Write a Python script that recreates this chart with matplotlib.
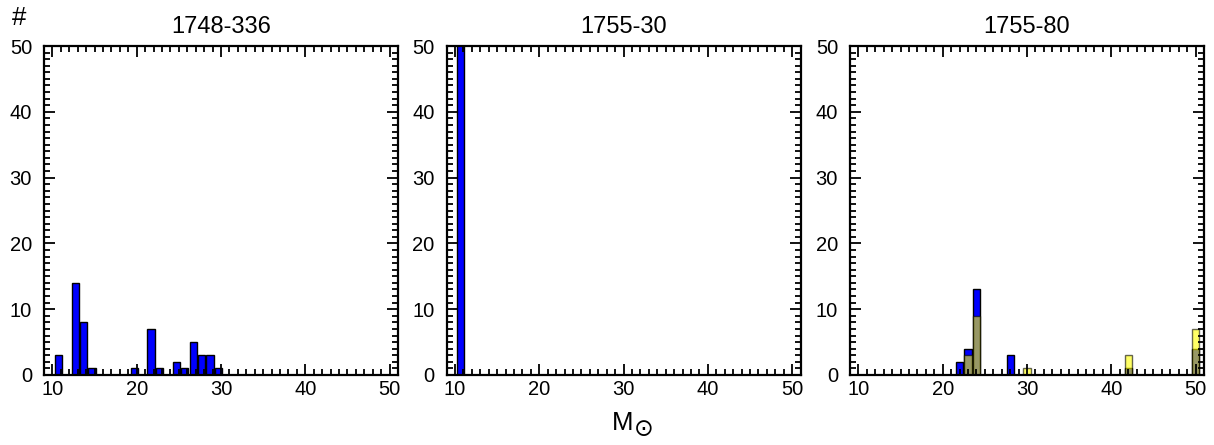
import numpy as np
import matplotlib.pyplot as plt
from matplotlib.ticker import MultipleLocator

plt.rcParams['font.family'] = ['Liberation Sans', 'DejaVu Sans']

# Data (bin centres in solar masses, counts)
titles = ['1748-336', '1755-30', '1755-80']

m1_blue = [10.7, 12.7, 13.7, 14.7, 19.7, 21.7, 22.7, 24.7, 25.7, 26.7, 27.7, 28.7, 29.7]
n1_blue = [3, 14, 8, 1, 1, 7, 1, 2, 1, 5, 3, 3, 1]

m2_blue = [10.65]
n2_blue = [60]

m3_blue = [22, 23, 24, 28, 42, 50]
n3_blue = [2, 4, 13, 3, 1, 4]
m3_yellow = [23, 24, 30, 42, 50]
n3_yellow = [3, 9, 1, 3, 7]

blue_sets = [(m1_blue, n1_blue), (m2_blue, n2_blue), (m3_blue, n3_blue)]
yellow_sets = [None, None, (m3_yellow, n3_yellow)]

W, H = 1214, 445
fig = plt.figure(figsize=(W / 100, H / 100), dpi=100)

lefts = [44, 446.5, 850]
for i in range(3):
    ax = fig.add_axes([lefts[i] / W, 1 - 375 / H, 354 / W, 329 / H])
    m, n = blue_sets[i]
    ax.bar(m, n, width=0.85, color='#0000ff', edgecolor='black', linewidth=1.0)
    if yellow_sets[i] is not None:
        my, ny = yellow_sets[i]
        ax.bar(my, ny, width=0.85, color='#ffff00', edgecolor='black',
               linewidth=1.0, alpha=0.6)
    ax.set_xlim(9, 51)
    ax.set_ylim(0, 50)
    ax.xaxis.set_major_locator(MultipleLocator(10))
    ax.xaxis.set_minor_locator(MultipleLocator(1))
    ax.yaxis.set_major_locator(MultipleLocator(10))
    ax.yaxis.set_minor_locator(MultipleLocator(1))
    ax.tick_params(which='both', direction='in', top=True, right=True,
                   width=1.3, labelsize=14.5)
    ax.tick_params(which='major', length=7.7)
    ax.tick_params(which='minor', length=4.3)
    ax.tick_params(axis='y', which='major', pad=8.6)
    ax.tick_params(axis='x', which='major', pad=3.5)
    for s in ax.spines.values():
        s.set_linewidth(1.6)
    ax.set_title(titles[i], fontsize=17, pad=9.4)

fig.text(19.5 / W, 1 - 25 / H, '#', ha='center', va='baseline', fontsize=18.5)
# x label: M with a sun symbol as subscript
fig.text(612 / W, 1 - 430 / H, 'M', ha='left', va='baseline', fontsize=18.5)
fig.text(643.5 / W, 1 - 428.5 / H, '\u2299', ha='center', va='center', fontsize=17,
         family='DejaVu Sans')

fig.savefig('out.png', dpi=100)
